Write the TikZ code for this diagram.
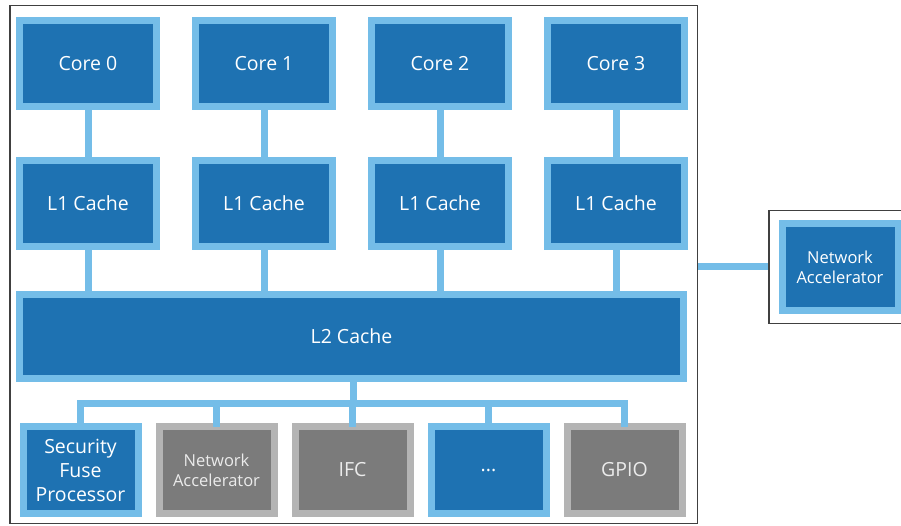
\documentclass[tikz,border=0pt]{standalone}
\usepackage{fontspec}
\setmainfont{Open Sans}
\usepackage{xcolor}
\usepackage{tikz}
\usetikzlibrary{positioning}
\definecolor{cpublue}{HTML}{1E72B2}
\definecolor{cpulight}{HTML}{74BDE8}
\definecolor{ipgray}{HTML}{7B7B7B}
\definecolor{iplight}{HTML}{B4B4B4}
\definecolor{framegray}{HTML}{404040}
\tikzset{link/.style = {draw=cpulight, line width=7pt, line cap=rect}}

\begin{document}
\begin{tikzpicture}[x=1pt, y=-1pt, node distance=32pt,
    blue node/.style={rectangle, fill=cpublue, draw=cpulight, line width=7pt, inner sep=0pt,
        text=white, align=center, font=\fontsize{19.5}{24}\selectfont},
    gray node/.style={blue node, fill=ipgray, draw=iplight, text=black!8},
    main node/.style={blue node, minimum width=137pt, minimum height=86pt},
    io node/.style={minimum width=115pt, minimum height=87pt},
    small text/.style={font=\fontsize{16.5}{20}\selectfont},
    chip frame/.style={draw=framegray, line width=1.5pt, inner sep=0pt}]
    \useasboundingbox (0,0) rectangle (901,526);

    % frames
    \node[chip frame, minimum width=687.5pt, minimum height=517.5pt] (soc) at (353.5,264.5) {};
    \node[chip frame, minimum width=141.5pt, minimum height=112.5pt] (netframe) at (839.5,267) {};

    % cores
    \node[main node] (c0) at (88,63.5) {Core 0};
    \node[main node] (c1) [right=of c0] {Core 1};
    \node[main node] (c2) [right=of c1] {Core 2};
    \node[main node] (c3) [right=of c2] {Core 3};

    % L1 caches
    \node[main node] (l1a) [below=47pt of c0] {L1 Cache};
    \node[main node] (l1b) [below=47pt of c1] {L1 Cache};
    \node[main node] (l1c) [below=47pt of c2] {L1 Cache};
    \node[main node] (l1d) [below=47pt of c3] {L1 Cache};

    \node[blue node, minimum width=664pt, minimum height=84pt] (l2) at (351.5,336.5) {L2 Cache};

    % peripherals
    \node[blue node, io node] (sfp) at (80.5,470) {Security\\Fuse\\Processor};
    \node[gray node, io node, small text] (nacc) [right=14pt of sfp] {Network\\Accelerator};
    \node[gray node, io node] (ifc) [right=14pt of nacc] {IFC};
    \node[blue node, io node] (more) [right=14pt of ifc] {...};
    \node[gray node, io node] (gpio) [right=14pt of more] {GPIO};

    \node[blue node, small text, minimum width=116pt, minimum height=87pt] (netacc) at (840,267) {Network\\Accelerator};

    \draw[link] (c0) -- (l1a);
    \draw[link] (c1) -- (l1b);
    \draw[link] (c2) -- (l1c);
    \draw[link] (c3) -- (l1d);

    \draw[link] (l1a) -- (l1a |- l2.north);
    \draw[link] (l1b) -- (l1b |- l2.north);
    \draw[link] (l1c) -- (l1c |- l2.north);
    \draw[link] (l1d) -- (l1d |- l2.north);

    % bus
    \coordinate (bus) at (353,403);
    \draw[link] (l2.south -| bus) -- (bus);
    \draw[link] (bus -| sfp) -- (bus -| gpio);
    \draw[link] (bus -| sfp) -- (sfp);
    \draw[link] (bus -| nacc) -- (nacc);
    \draw[link] (bus -| ifc) -- (ifc);
    \draw[link] (bus -| more) -- (more);
    \draw[link] (bus -| gpio) -- (gpio);

    \draw[link, line cap=butt] (soc.east |- netacc) -- (netframe.west |- netacc);
\end{tikzpicture}
\end{document}
